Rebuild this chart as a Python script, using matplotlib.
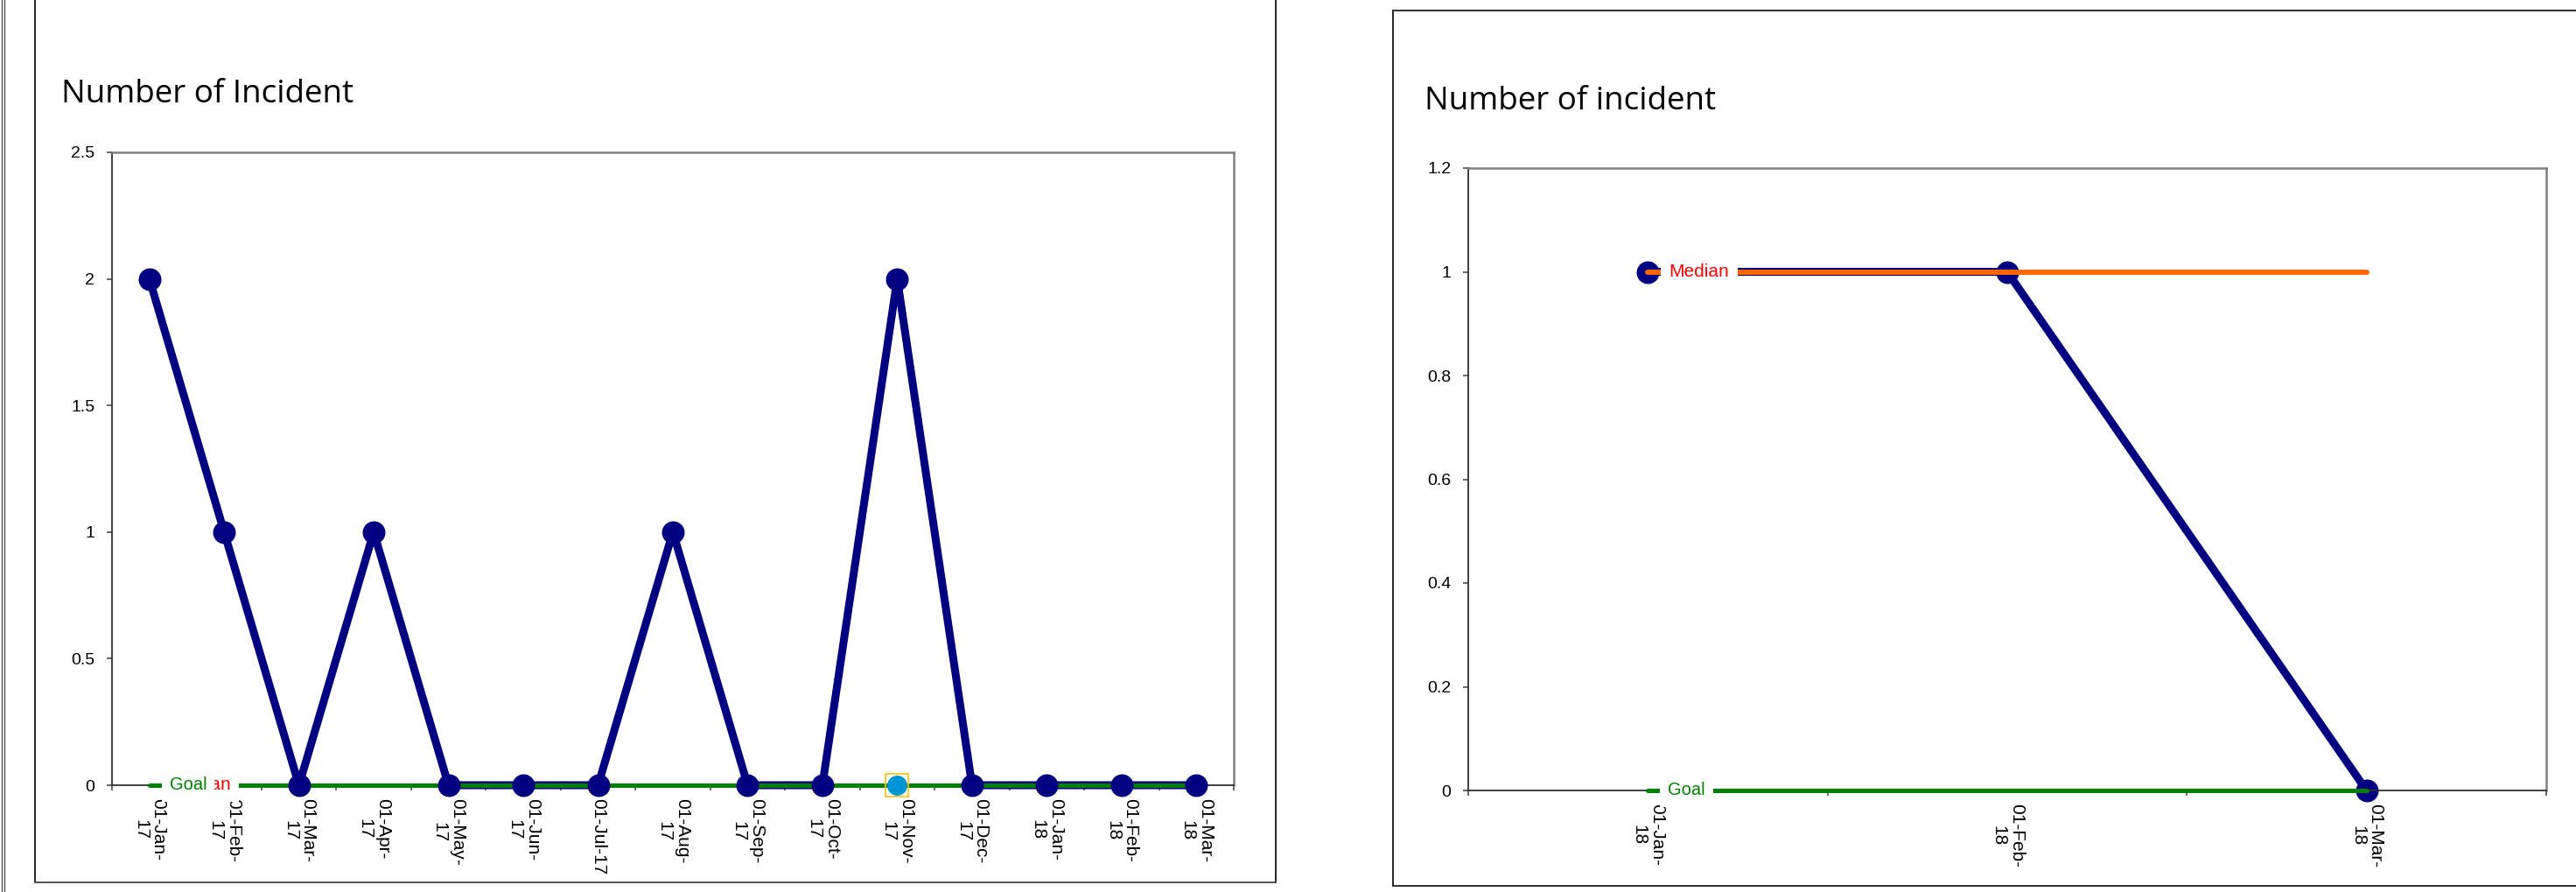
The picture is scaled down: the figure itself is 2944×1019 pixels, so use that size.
import matplotlib
matplotlib.use('Agg')
import matplotlib.pyplot as plt
from matplotlib.lines import Line2D
import numpy as np

# ---------------- data ----------------
left_labels = ['01-Jan-\n17', '01-Feb-\n17', '01-Mar-\n17', '01-Apr-\n17', '01-May-\n17',
               '01-Jun-\n17', '01-Jul-17', '01-Aug-\n17', '01-Sep-\n17', '01-Oct-\n17',
               '01-Nov-\n17', '01-Dec-\n17', '01-Jan-\n18', '01-Feb-\n18', '01-Mar-\n18']
left_incidents = [2, 1, 0, 1, 0, 0, 0, 1, 0, 0, 2, 0, 0, 0, 0]
left_goal = [0, 0, 0, 0, 0, 0, 0, 0, 0, 0, 0, 0, 0, 0, 0]
left_median = [0, 0, 0, 0, 0, 0, 0, 0, 0, 0, 0, 0, 0, 0, 0]
left_highlight = 10  # selected point of the goal series (01-Nov-17)
left_yticks = [0, 0.5, 1, 1.5, 2, 2.5]
left_yticklabels = ['0', '0.5', '1', '1.5', '2', '2.5']
left_title = 'Number of Incident'

right_labels = ['01-Jan-\n18', '01-Feb-\n18', '01-Mar-\n18']
right_incidents = [1, 1, 0]
right_goal = [0, 0, 0]
right_median = [1, 1, 1]
right_yticks = [0, 0.2, 0.4, 0.6, 0.8, 1.0, 1.2]
right_yticklabels = ['0', '0.2', '0.4', '0.6', '0.8', '1', '1.2']
right_title = 'Number of incident'

# ---------------- style ----------------
W, H, DPI = 2944, 1019, 100
NAVY = '#000080'
GREEN = '#008000'
ORANGE = '#FF6600'
RED = '#FF0000'
TXT_FONT = ['Liberation Sans', 'DejaVu Sans']
TITLE_FONT = ['Open Sans', 'DejaVu Sans']

fig = plt.figure(figsize=(W / DPI, H / DPI), dpi=DPI, facecolor='white')


def fx(px):
    return px / W


def fy(py):
    return 1 - py / H


def make_axes(x0, x1, ytop, ybot):
    return fig.add_axes([fx(x0), fy(ybot), (x1 - x0) / W, (ybot - ytop) / H])


def draw(ax, labels, incidents, goal, median, yticks, yticklabels, left_style):
    n = len(labels)
    x = np.arange(n)
    ax.set_xlim(-0.5, n - 0.5)
    ax.set_ylim(yticks[0], yticks[-1])
    zm = 6 if left_style else 2.5
    zmed = 1.5 if left_style else 4
    lwmed = 3.4 if left_style else 4.3
    ax.plot(x, incidents, color=NAVY, lw=6.5, solid_joinstyle='round',
            solid_capstyle='round', zorder=2, clip_on=False)
    ax.plot(x, incidents, ls='none', marker='o', ms=18.7, mfc=NAVY, mec=NAVY,
            mew=0, zorder=zm, clip_on=False)
    ax.plot(x, median, color=ORANGE, lw=lwmed, solid_capstyle='round', zorder=zmed, clip_on=False)
    ax.plot(x, goal, color=GREEN, lw=3.6, solid_capstyle='round', zorder=5, clip_on=False)

    ax.annotate('Median', xy=(x[0], median[0]), xytext=(17.5, 0), textcoords='offset points',
                ha='left', va='center', color=RED, fontsize=15, family=TXT_FONT,
                bbox=dict(boxstyle='square,pad=0.45', fc='white', ec='none'),
                zorder=10, annotation_clip=False)
    ax.annotate('Goal', xy=(x[0], goal[0]), xytext=(16.5, 0), textcoords='offset points',
                ha='left', va='center', color=GREEN, fontsize=14.5, family=TXT_FONT,
                bbox=dict(boxstyle='square,pad=0.45', fc='white', ec='none'),
                zorder=11, annotation_clip=False)

    # category axis: ticks between categories, labels at centres
    ax.set_xticks(np.arange(n + 1) - 0.5)
    ax.set_xticklabels([])
    ax.set_xticks(x, minor=True)
    ax.set_xticklabels(labels, minor=True, rotation=-90, fontsize=15, family=TXT_FONT,
                       ha='center', va='top', multialignment='center', linespacing=1.1)
    ax.tick_params(axis='x', which='major', direction='out', length=4.3, width=1.1,
                   color='#404040')
    ax.tick_params(axis='x', which='minor', length=0, pad=10.8)

    ax.set_yticks(yticks)
    ax.set_yticklabels(yticklabels, fontsize=14, family=TXT_FONT)
    ax.tick_params(axis='y', direction='out', length=4.3, width=1.1, pad=10,
                   color='#404040')

    for s in ('top', 'right'):
        ax.spines[s].set_color('#808080')
        ax.spines[s].set_linewidth(1.8)
    for s in ('left', 'bottom'):
        ax.spines[s].set_color('#303030')
        ax.spines[s].set_linewidth(1.3)
    ax.set_facecolor('white')


axL = make_axes(128, 1410, 174, 897)
draw(axL, left_labels, left_incidents, left_goal, left_median,
     left_yticks, left_yticklabels, left_style=True)
# highlighted (selected) point on the goal series
axL.plot([left_highlight], [left_goal[left_highlight]], ls='none', marker='o', ms=16.5,
         mfc='#0096D6', mew=0, zorder=9, clip_on=False)
axL.plot([left_highlight], [left_goal[left_highlight]], ls='none', marker='s', ms=18.5,
         mfc='none', mec='#FFC000', mew=1.2, zorder=9, clip_on=False)

axR = make_axes(1678, 2910, 192, 903)
draw(axR, right_labels, right_incidents, right_goal, right_median,
     right_yticks, right_yticklabels, left_style=False)

# titles
fig.text(fx(70), fy(117), left_title, fontsize=26.5, family=TITLE_FONT,
         ha='left', va='baseline')
fig.text(fx(1628), fy(125), right_title, fontsize=26.5, family=TITLE_FONT,
         ha='left', va='baseline')


# panel frames
def fline(xs, ys, lw=1.2, color='black'):
    fig.add_artist(Line2D([fx(v) for v in xs], [fy(v) for v in ys], lw=lw, color=color,
                          transform=fig.transFigure))


fline([1.5, 1.5], [0, H], lw=0.9, color='#404040')
fline([4.5, 4.5], [0, H], lw=0.9, color='#404040')
fline([40, 40], [0, 1008])
fline([1458, 1458], [0, 1008])
fline([40, 1458], [1008, 1008], color='#505050', lw=1.4)
fline([1592, 1592], [12, 1012])
fline([1592, W], [12, 12], color='#303030', lw=1.4)
fline([1592, W], [1012, 1012], color='#303030', lw=1.4)

fig.savefig('out.png', dpi=DPI, facecolor='white')
